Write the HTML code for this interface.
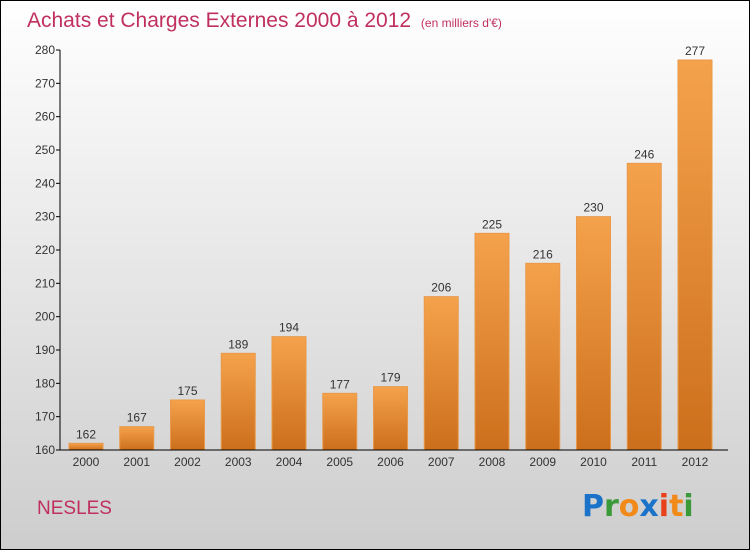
<!DOCTYPE html>
<html><head><meta charset="utf-8"><style>
body{margin:0;width:750px;height:550px;overflow:hidden;font-family:"Liberation Sans",sans-serif}
</style></head><body>
<svg id="c" width="750" height="550" xmlns="http://www.w3.org/2000/svg">
<defs>
<linearGradient id="bg" x1="0" y1="0" x2="0" y2="1"><stop offset="0" stop-color="#ffffff"/><stop offset="1" stop-color="#cdcdcd"/></linearGradient>
<linearGradient id="bar" x1="0" y1="0" x2="0" y2="1"><stop offset="0" stop-color="#f5a24c"/><stop offset="1" stop-color="#cc6f1c"/></linearGradient>
</defs>
<rect x="0.5" y="0.5" width="749" height="549" fill="url(#bg)" stroke="#000"/>
<text x="27" y="27" font-size="21" fill="#c0305e">Achats et Charges Externes 2000 à 2012 <tspan font-size="12" dx="4">(en milliers d'€)</tspan></text>
<text x="37" y="514" font-size="19" fill="#c0305e">NESLES</text>
<g id="logo" font-size="30" font-family="'DejaVu Sans',sans-serif" font-weight="bold">
<text x="582" y="516"><tspan fill="#1a73c9">P</tspan><tspan fill="#3a9a3a">r</tspan><tspan fill="#f28a1a">o</tspan><tspan fill="#1a73c9">x</tspan><tspan fill="#e8401a">i</tspan><tspan fill="#f28a1a">t</tspan><tspan fill="#3a9a3a">i</tspan></text>
</g>
<g id="plot"></g>
</svg>
<script>
const years=["2000","2001","2002","2003","2004","2005","2006","2007","2008","2009","2010","2011","2012"];
const values=[162,167,175,189,194,177,179,206,225,216,230,246,277];
const yTicks=[160,170,180,190,200,210,220,230,240,250,260,270,280];
const NS="http://www.w3.org/2000/svg";
const g=document.getElementById('plot');
const yMin=160,yMax=280,plotTop=50,plotBot=450,axisX=60;
const y=v=>plotBot-(v-yMin)/(yMax-yMin)*(plotBot-plotTop);
const x=i=>86+i*50.75;
function el(t,a){const e=document.createElementNS(NS,t);for(const k in a)e.setAttribute(k,a[k]);g.appendChild(e);return e;}
yTicks.forEach(t=>{
 const l=el('line',{x1:axisX-4,x2:axisX,y1:y(t),y2:y(t),stroke:'#000'});
 
 
 const tx=el('text',{x:axisX-5,y:y(t)+4,'font-size':12,'text-anchor':'end',fill:'#333'});
 tx.textContent=t;
 
 
});
values.forEach((v,i)=>{
 const r=el('rect',{x:x(i)-17,y:y(v),width:34,height:plotBot-y(v),fill:'url(#bar)',stroke:'#e8994a','stroke-width':1});
 
 
 const t=el('text',{x:x(i),y:y(v)-5,'font-size':12,'text-anchor':'middle',fill:'#333'});
 t.textContent=v;
 
 
 const xl=el('text',{x:x(i),y:466,'font-size':12,'text-anchor':'middle',fill:'#333'});
 xl.textContent=years[i];
 
 
});
const ya=el('line',{x1:axisX,x2:axisX,y1:plotTop,y2:plotBot,stroke:'#000'});


const xa=el('line',{x1:axisX,x2:728,y1:plotBot,y2:plotBot,stroke:'#000'});


</script>
</body></html>
